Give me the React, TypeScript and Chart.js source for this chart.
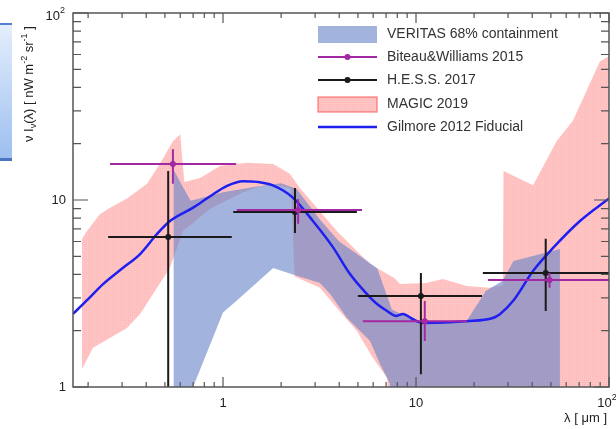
import React, { useEffect, useRef } from "react";
import { Chart, registerables } from "chart.js";
Chart.register(...registerables);

// Axis ranges
const X_MIN = 0.167;
const X_MAX = 100;
const Y_MIN = 1;
const Y_MAX = 100;

// Gilmore 2012 Fiducial model
const gilmoreLambda = [0.167, 0.2, 0.239, 0.3, 0.372, 0.455, 0.531, 0.7, 0.85, 1.05, 1.27, 1.5, 1.8, 2.3, 2.93, 3.71, 4.55, 5.57, 6.28, 7.08, 7.9, 8.55, 9.6, 10.86, 18.3, 25, 27.2, 31.8, 40.4, 51.3, 70.7, 100];
const gilmoreFlux = [2.46, 2.95, 3.55, 4.3, 5.14, 6.58, 7.72, 9.1, 10.4, 11.9, 12.6, 12.5, 12.0, 10.3, 7.7, 5.6, 4.02, 3.14, 2.78, 2.55, 2.4, 2.46, 2.31, 2.2, 2.25, 2.34, 2.45, 2.88, 4.17, 5.54, 7.72, 10.2];

// VERITAS 68% containment band
const veritasUpperLambda = [0.555, 0.6, 0.68, 0.85, 1.0, 1.5, 2.0, 2.4, 3.2, 4.0, 5.6, 6.3, 7.5, 10, 18, 23, 28, 32, 55.7];
const veritasUpperFlux = [14.5, 12.5, 9.9, 10.5, 11.0, 11.8, 12.3, 11.5, 7.8, 6.0, 4.7, 4.3, 2.6, 2.25, 2.2, 3.26, 3.69, 4.72, 5.47];
const veritasLowerLambda = [0.555, 0.7, 1.0, 1.18, 1.82, 2.3, 3.18, 3.59, 4.39, 5.78, 6.5, 7.33, 7.6, 55.7];
const veritasLowerFlux = [0.5, 1.0, 2.5, 2.9, 4.33, 4.0, 3.6, 3.14, 2.34, 1.76, 1.33, 1.04, 0.5, 0.5];

// MAGIC 2019 band
const magicUpperLambda = [0.186, 0.197, 0.23, 0.26, 0.318, 0.404, 0.47, 0.55, 0.6, 0.63, 0.76, 0.965, 1.33, 1.82, 2.22, 2.5, 3.9, 5.12, 5.78, 7.7, 8.27, 11.3, 13.8, 18.3, 24, 28.2, 28.4, 40.4, 53.6, 65, 89.6, 110];
const magicUpperFlux = [6.2, 6.8, 8.4, 9.1, 10.2, 12.2, 15.6, 20.6, 22.5, 12.5, 13.1, 15.2, 15.8, 15.6, 13.8, 11.6, 6.8, 5.14, 4.55, 3.83, 3.55, 3.6, 3.78, 3.47, 3.39, 3.5, 14.3, 12.0, 20.7, 26.5, 55, 62];
const magicLowerLambda = [0.186, 0.212, 0.318, 0.372, 0.455, 0.53, 0.62, 0.86, 1.27, 1.55, 1.9, 2.25, 2.35, 3.18, 3.9, 4.94, 5.98, 7.08, 7.5, 110];
const magicLowerFlux = [1.25, 1.62, 2.07, 2.46, 3.39, 4.33, 6.8, 9.0, 11.0, 11.8, 12.0, 11.5, 3.9, 3.39, 2.64, 1.99, 1.43, 1.12, 0.5, 0.5];

// Biteau & Williams 2015
const biteauLambda = [0.55, 2.45, 11.1, 49.2];
const biteauFlux = [15.6, 8.85, 2.25, 3.73];
const biteauLambdaLo = [0.26, 1.18, 5.3, 23.6];
const biteauLambdaHi = [1.17, 5.25, 18.4, 100];
const biteauFluxLo = [12.2, 7.46, 1.76, 3.39];
const biteauFluxHi = [18.7, 10.1, 2.88, 4.07];

// H.E.S.S. 2017
const hessLambda = [0.52, 2.36, 10.6, 47];
const hessFlux = [6.34, 8.63, 3.07, 4.07];
const hessLambdaLo = [0.254, 1.13, 5.0, 22.2];
const hessLambdaHi = [1.11, 4.94, 22.0, 100];
const hessFluxLo = [0.5, 6.66, 1.17, 2.55];
const hessFluxHi = [14.3, 11.6, 4.07, 6.2];

const legendLabels = ["VERITAS 68% containment", "Biteau&Williams 2015", "H.E.S.S. 2017", "MAGIC 2019", "Gilmore 2012 Fiducial"];
const majorTicks = [1, 10, 100];

const BLUE_FILL = "rgba(100,130,200,0.6)";
const PURPLE = "#a328a3";
const BLACK = "#1a1a1a";
const LINE_BLUE = "#1f1ff0";
const FONT = "'Liberation Sans', Arial, Helvetica, sans-serif";

function pts(xs: number[], ys: number[]) {
  return xs.map((x, i) => ({ x, y: ys[i] }));
}
function polygon(ux: number[], uy: number[], lx: number[], ly: number[]) {
  const up = pts(ux, uy);
  const lo = pts(lx, ly).reverse();
  return up.concat(lo);
}

function minorValues(min: number, max: number) {
  const out: number[] = [];
  for (let d = 0.1; d < max; d *= 10) {
    for (let k = 2; k <= 9; k++) {
      const v = k * d;
      if (v > min && v < max) out.push(v);
    }
  }
  return out;
}

function drawPow(ctx: CanvasRenderingContext2D, base: string, exp: string, x: number, y: number, align: string, size: number) {
  ctx.font = `${size}px ${FONT}`;
  const wb = ctx.measureText(base).width;
  ctx.font = `${Math.round(size * 0.7)}px ${FONT}`;
  const we = exp ? ctx.measureText(exp).width : 0;
  const total = wb + we;
  let left = x;
  if (align === "center") left = x - total / 2;
  if (align === "right") left = x - total;
  ctx.textAlign = "left";
  ctx.textBaseline = "middle";
  ctx.font = `${size}px ${FONT}`;
  ctx.fillText(base, left, y);
  if (exp) {
    ctx.font = `${Math.round(size * 0.7)}px ${FONT}`;
    ctx.fillText(exp, left + wb, y - size * 0.4);
  }
}

const rootPlugin = {
  id: "rootStyle",
  afterDatasetsDraw(chart: any) {
    const { ctx, chartArea: a, scales } = chart;
    const xs = scales.x;
    const ys = scales.y;
    ctx.save();
    ctx.beginPath();
    ctx.rect(a.left, a.top, a.right - a.left, a.bottom - a.top);
    ctx.clip();
    const drawSet = (lx: number[], ly: number[], xlo: number[], xhi: number[], ylo: number[], yhi: number[], color: string) => {
      ctx.strokeStyle = color;
      ctx.lineWidth = 2;
      for (let i = 0; i < lx.length; i++) {
        const px = xs.getPixelForValue(lx[i]);
        const py = ys.getPixelForValue(ly[i]);
        ctx.beginPath();
        ctx.moveTo(xs.getPixelForValue(xlo[i]), py);
        ctx.lineTo(xs.getPixelForValue(xhi[i]), py);
        ctx.moveTo(px, ys.getPixelForValue(ylo[i]));
        ctx.lineTo(px, ys.getPixelForValue(yhi[i]));
        ctx.stroke();
        ctx.fillStyle = color;
        ctx.beginPath();
        ctx.arc(px, py, 3, 0, Math.PI * 2);
        ctx.fill();
      }
    };
    drawSet(hessLambda, hessFlux, hessLambdaLo, hessLambdaHi, hessFluxLo, hessFluxHi, BLACK);
    drawSet(biteauLambda, biteauFlux, biteauLambdaLo, biteauLambdaHi, biteauFluxLo, biteauFluxHi, PURPLE);
    ctx.restore();
  },
  afterDraw(chart: any) {
    const { ctx, chartArea: a, scales } = chart;
    const xs = scales.x;
    const ys = scales.y;
    ctx.save();
    // frame
    ctx.strokeStyle = "#555";
    ctx.lineWidth = 1.5;
    ctx.strokeRect(a.left, a.top, a.right - a.left, a.bottom - a.top);
    // ticks
    ctx.lineWidth = 1.2;
    ctx.beginPath();
    for (const v of minorValues(X_MIN, X_MAX)) {
      const px = xs.getPixelForValue(v);
      ctx.moveTo(px, a.bottom); ctx.lineTo(px, a.bottom - 5);
      ctx.moveTo(px, a.top); ctx.lineTo(px, a.top + 5);
    }
    for (const v of majorTicks) {
      if (v < X_MIN || v > X_MAX) continue;
      const px = xs.getPixelForValue(v);
      ctx.moveTo(px, a.bottom); ctx.lineTo(px, a.bottom - 10);
      ctx.moveTo(px, a.top); ctx.lineTo(px, a.top + 10);
    }
    for (const v of minorValues(Y_MIN, Y_MAX)) {
      const py = ys.getPixelForValue(v);
      ctx.moveTo(a.left, py); ctx.lineTo(a.left + 8, py);
      ctx.moveTo(a.right, py); ctx.lineTo(a.right - 8, py);
    }
    for (const v of majorTicks) {
      const py = ys.getPixelForValue(v);
      ctx.moveTo(a.left, py); ctx.lineTo(a.left + 15, py);
      ctx.moveTo(a.right, py); ctx.lineTo(a.right - 15, py);
    }
    ctx.stroke();

    // tick labels
    ctx.fillStyle = "#222";
    drawPow(ctx, "1", "", xs.getPixelForValue(1), 403, "center", 13);
    drawPow(ctx, "10", "", xs.getPixelForValue(10), 403, "center", 13);
    drawPow(ctx, "10", "2", xs.getPixelForValue(100) - 2, 403, "center", 13);
    drawPow(ctx, "1", "", a.left - 7, ys.getPixelForValue(1), "right", 13);
    drawPow(ctx, "10", "", a.left - 7, ys.getPixelForValue(10), "right", 13);
    drawPow(ctx, "10", "2", a.left - 8, ys.getPixelForValue(100) + 3, "right", 13);

    // x title
    ctx.font = `13px ${FONT}`;
    ctx.textAlign = "right";
    ctx.textBaseline = "middle";
    ctx.fillText("\u03bb [ \u03bcm ]", 607, 418);

    // y title (rotated)
    ctx.save();
    ctx.translate(33, 142);
    ctx.rotate(-Math.PI / 2);
    ctx.textAlign = "left";
    ctx.textBaseline = "alphabetic";
    const parts: [string, number][] = [
      ["\u03bd I", 0], ["\u03bd", 1], ["(\u03bb) [ nW m", 0], ["-2", -1], [" sr", 0], ["-1", -1], [" ]", 0],
    ];
    let tx = 0;
    for (const [t, mode] of parts) {
      const size = mode === 0 ? 13 : 9;
      ctx.font = `${size}px ${FONT}`;
      const dy = mode === 1 ? 3 : mode === -1 ? -6 : 0;
      ctx.fillText(t, tx, dy);
      tx += ctx.measureText(t).width;
    }
    ctx.restore();

    // legend
    const lx0 = 318, lx1 = 377, tx0 = 387;
    const rows = [34, 57, 80, 104, 127];
    ctx.font = `14px ${FONT}`;
    ctx.textAlign = "left";
    ctx.textBaseline = "middle";
    ctx.fillStyle = "#333";
    legendLabels.forEach((l, i) => ctx.fillText(l, tx0, rows[i]));
    // VERITAS swatch
    ctx.fillStyle = BLUE_FILL;
    ctx.fillRect(lx0, rows[0] - 8, lx1 - lx0, 17);
    // Biteau
    ctx.strokeStyle = PURPLE; ctx.lineWidth = 2;
    ctx.beginPath(); ctx.moveTo(lx0, rows[1]); ctx.lineTo(lx1, rows[1]); ctx.stroke();
    ctx.fillStyle = PURPLE; ctx.beginPath(); ctx.arc((lx0 + lx1) / 2, rows[1], 3, 0, Math.PI * 2); ctx.fill();
    // HESS
    ctx.strokeStyle = BLACK;
    ctx.beginPath(); ctx.moveTo(lx0, rows[2]); ctx.lineTo(lx1, rows[2]); ctx.stroke();
    ctx.fillStyle = BLACK; ctx.beginPath(); ctx.arc((lx0 + lx1) / 2, rows[2], 3, 0, Math.PI * 2); ctx.fill();
    // MAGIC
    ctx.fillStyle = chart.$pink || "rgba(255,150,150,0.55)";
    ctx.fillRect(lx0, rows[3] - 7, lx1 - lx0, 15);
    ctx.strokeStyle = "rgba(255,90,90,0.8)"; ctx.lineWidth = 1.2;
    ctx.strokeRect(lx0, rows[3] - 7, lx1 - lx0, 15);
    // Gilmore
    ctx.strokeStyle = LINE_BLUE; ctx.lineWidth = 2.5;
    ctx.beginPath(); ctx.moveTo(lx0, rows[4]); ctx.lineTo(lx1, rows[4]); ctx.stroke();
    ctx.restore();
  },
};

export default function App() {
  const ref = useRef<HTMLCanvasElement>(null);
  useEffect(() => {
    const canvas = ref.current!;
    const pc = document.createElement("canvas");
    pc.width = 2;
    pc.height = 2;
    const p = pc.getContext("2d")!;
    p.fillStyle = "rgba(255,140,140,0.5)";
    p.fillRect(0, 0, 2, 2);
    p.clearRect(0, 0, 1, 1);
    p.fillStyle = "rgba(255,125,125,0.55)";
    p.fillRect(0, 0, 1, 1);
    const pink = canvas.getContext("2d")!.createPattern(pc, "repeat")!;

    const chart: any = new Chart(canvas, {
      type: "scatter",
      data: {
        datasets: [
          {
            label: "Gilmore 2012 Fiducial",
            data: pts(gilmoreLambda, gilmoreFlux),
            showLine: true,
            borderColor: LINE_BLUE,
            borderWidth: 2.5,
            pointRadius: 0,
            tension: 0.4,
            cubicInterpolationMode: "monotone",
            fill: false,
          },
          {
            label: "VERITAS 68% containment",
            data: polygon(veritasUpperLambda, veritasUpperFlux, veritasLowerLambda, veritasLowerFlux),
            showLine: true,
            borderWidth: 0,
            borderColor: "rgba(0,0,0,0)",
            backgroundColor: BLUE_FILL,
            pointRadius: 0,
            tension: 0,
            fill: "shape",
          },
          {
            label: "MAGIC 2019",
            data: polygon(magicUpperLambda, magicUpperFlux, magicLowerLambda, magicLowerFlux),
            showLine: true,
            borderWidth: 0,
            borderColor: "rgba(0,0,0,0)",
            backgroundColor: pink as any,
            pointRadius: 0,
            tension: 0,
            fill: "shape",
          },
        ],
      },
      options: {
        animation: false,
        responsive: false,
        events: [],
        layout: { padding: { left: 73, right: 7, top: 13, bottom: 42 } },
        plugins: { legend: { display: false }, tooltip: { enabled: false } },
        scales: {
          x: { type: "logarithmic", min: X_MIN, max: X_MAX, display: false },
          y: { type: "logarithmic", min: Y_MIN, max: Y_MAX, display: false },
        },
      },
      plugins: [rootPlugin],
    } as any);
    chart.$pink = pink;
    chart.draw();
    return () => chart.destroy();
  }, []);
  return (
    <div style={{ position: "fixed", left: 0, top: 0, width: 616, height: 429, background: "#fff", overflow: "hidden" }}>
      <canvas ref={ref} width={616} height={429} style={{ position: "absolute", left: 0, top: 0 }} />
      <div
        style={{
          position: "absolute",
          left: 0,
          top: 23,
          width: 12,
          height: 138,
          boxSizing: "border-box",
          background: "linear-gradient(#e4eefc, #9dbff0)",
          borderTop: "2px solid #4f80d4",
          borderBottom: "3px solid #4a74c2",
        }}
      />
    </div>
  );
}
